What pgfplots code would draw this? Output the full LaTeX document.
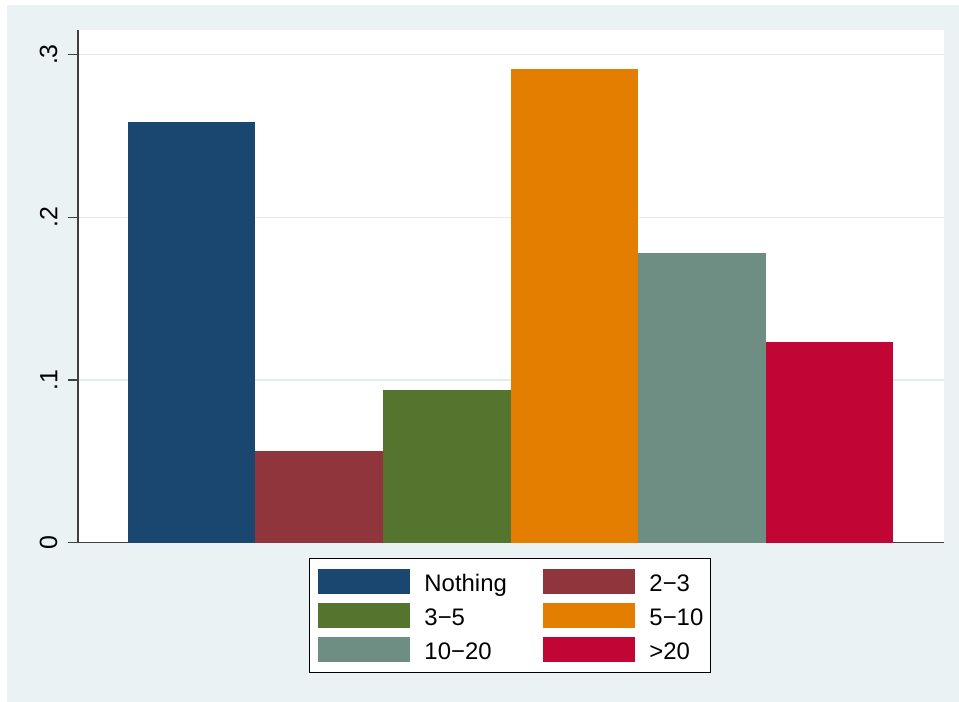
\documentclass[border=0pt]{standalone}
\usepackage{fontspec}
\setmainfont{Liberation Sans}
\usepackage{pgfplots}
\pgfplotsset{compat=1.18}
\definecolor{sbg}{HTML}{EAF2F3}
\definecolor{sgrid}{HTML}{E3ECED}
\definecolor{c1}{HTML}{1A476F}
\definecolor{c2}{HTML}{90353B}
\definecolor{c3}{HTML}{55752F}
\definecolor{c4}{HTML}{E37E00}
\definecolor{c5}{HTML}{6E8E84}
\definecolor{c6}{HTML}{C10534}
\begin{document}
\begin{tikzpicture}[x=1bp,y=1bp]
\fill[white] (0,0) rectangle (959,-702);
\fill[sbg] (7,-5) rectangle (959,-702);
\begin{axis}[
  at={(78bp,-542.7bp)}, anchor=south west,
  scale only axis, width=866bp, height=512.7bp,
  xmin=-0.8895, xmax=5.897, ymin=0, ymax=0.3151,
  axis background/.style={fill=white},
  axis x line*=bottom, axis y line*=left,
  axis line style={draw=black!75, line width=1.3bp},
  xtick=\empty,
  ytick={0,0.1,0.2,0.3},
  yticklabels={0,.1,.2,.3},
  tick align=outside, major tick length=9.5bp,
  tick style={draw=black!75, line width=1.3bp},
  ymajorgrids, grid style={draw=sgrid, line width=1.5bp},
  yticklabel style={rotate=90, anchor=south, inner sep=0pt, font=\fontsize{25}{25}\selectfont},
  yticklabel shift=11bp,
  /pgf/number format/assume math mode=true,
  legend columns=2,
  legend cell align=left,
  legend image code/.code={\fill[#1] (0bp,-11bp) rectangle (92bp,14bp);},
  legend style={at={(0.4988,-0.0298)}, anchor=north, draw=black, line width=0.8bp,
    fill=white, inner xsep=9bp, inner ysep=10.5bp,
    font=\fontsize{24}{24}\selectfont, row sep=9bp,
    nodes={inner sep=0pt, text height=17bp, text depth=0pt},
    /tikz/every odd column/.style={column sep=14bp},
    /tikz/every even column/.style={column sep=0bp}},
]
\addplot[ybar, bar width=1, bar shift=0, fill=c1, draw=none] coordinates {(0,0.2585)};
\addlegendentry{\makebox[119bp][l]{Nothing}}
\addplot[ybar, bar width=1, bar shift=0, fill=c2, draw=none] coordinates {(1,0.0564)};
\addlegendentry{\makebox[52bp][l]{2−3}}
\addplot[ybar, bar width=1, bar shift=0, fill=c3, draw=none] coordinates {(2,0.0938)};
\addlegendentry{\makebox[119bp][l]{3−5}}
\addplot[ybar, bar width=1, bar shift=0, fill=c4, draw=none] coordinates {(3,0.2911)};
\addlegendentry{\makebox[52bp][l]{5−10}}
\addplot[ybar, bar width=1, bar shift=0, fill=c5, draw=none] coordinates {(4,0.1782)};
\addlegendentry{\makebox[119bp][l]{10−20}}
\addplot[ybar, bar width=1, bar shift=0, fill=c6, draw=none] coordinates {(5,0.1231)};
\addlegendentry{\makebox[52bp][l]{>20}}
\end{axis}
\end{tikzpicture}
\end{document}
